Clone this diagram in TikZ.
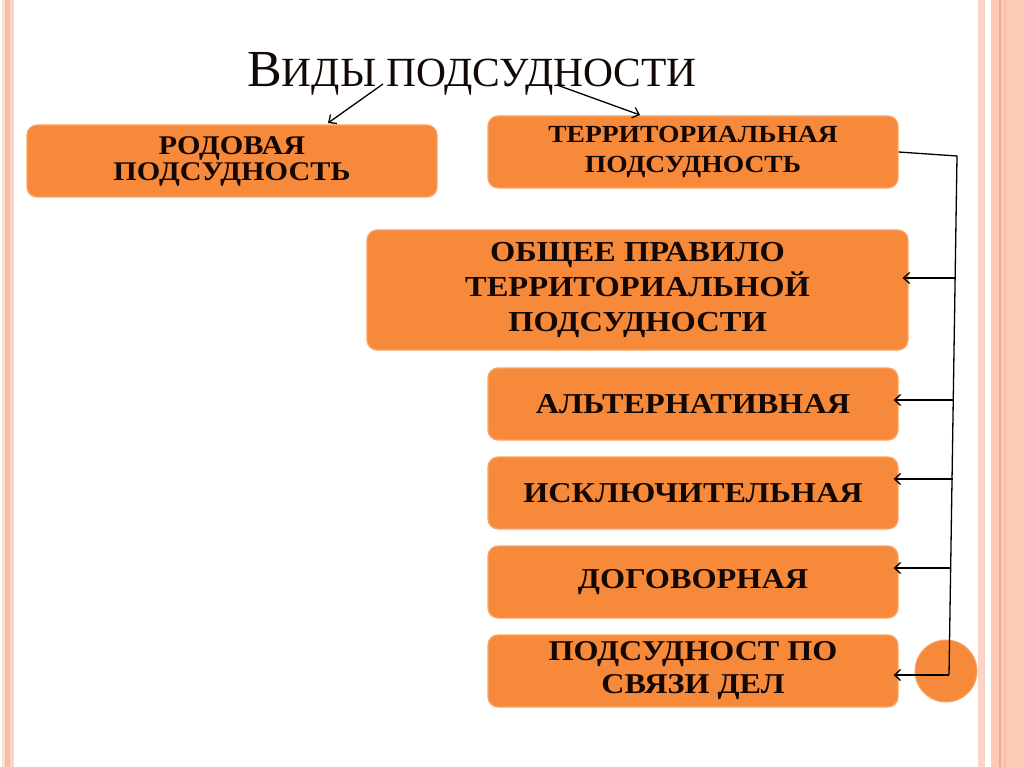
\documentclass[tikz,border=0pt]{standalone}
\usepackage{fontspec}
\setmainfont{Liberation Serif}
\newfontfamily\boxfont[FakeStretch=1.12]{Liberation Serif}
\usetikzlibrary{arrows.meta,calc}
\definecolor{boxorange}{RGB}{247,137,58}
\definecolor{boxedge}{RGB}{250,165,105}
\definecolor{stripeA}{RGB}{251,224,214}
\definecolor{stripeB}{RGB}{244,190,170}
\definecolor{stripeC}{RGB}{250,212,196}
\definecolor{bandR}{RGB}{251,203,181}
\definecolor{bandD}{RGB}{238,168,140}
\definecolor{txt}{RGB}{20,8,4}
\tikzset{
  obox/.style={rounded corners=10pt, fill=boxorange, draw=boxedge, line width=1.2pt,
    align=center, text=txt, inner sep=0pt},
  fs/.style 2 args={font=\boxfont\bfseries\fontsize{#1}{#2}\selectfont},
  arr/.style={-{Straight Barb[length=6pt,width=11pt]}, line width=1.3pt, black},
  lin/.style={line width=1.3pt, black}
}
\begin{document}
\begin{tikzpicture}[x=1pt,y=-1pt]
\useasboundingbox (0,0) rectangle (1024,767);
\fill[white] (0,0) rectangle (1024,767);
% left border stripes
\fill[stripeA] (2,0) rectangle (5,767);
\fill[stripeB] (5,0) rectangle (10,767);
\fill[stripeC] (10,0) rectangle (14,767);
% right border stripes
\fill[stripeC] (978,0) rectangle (985,767);
\fill[bandR] (991,0) rectangle (1024,767);
\fill[bandD] (999,0) rectangle (1001,767);
\fill[stripeB] (1004,0) rectangle (1006,767);

% title
\node[anchor=base, text=txt, inner sep=0pt] (title) at (472,87)
  {\fontsize{52}{54}\selectfont В\fontsize{41.5}{44}\selectfont ИДЫ ПОДСУДНОСТИ};

% boxes
\node[obox, fs={27}{26}, minimum width=410pt, minimum height=72pt] (rod) at (232,161)
  {РОДОВАЯ\\ПОДСУДНОСТЬ};
\node[obox, fs={24.6}{30}, minimum width=410pt, minimum height=72pt] (terr) at (693,152)
  {ТЕРРИТОРИАЛЬНАЯ\\ПОДСУДНОСТЬ};
\node[obox, fs={29}{35}, minimum width=541pt, minimum height=120pt] (obsh) at (637.5,290)
  {ОБЩЕЕ ПРАВИЛО\\ТЕРРИТОРИАЛЬНОЙ\\ПОДСУДНОСТИ};
\node[obox, fs={28.8}{30}, minimum width=410pt, minimum height=72pt] (alt) at (693,404)
  {АЛЬТЕРНАТИВНАЯ};
\node[obox, fs={28.8}{30}, minimum width=410pt, minimum height=72pt] (iskl) at (693,493)
  {ИСКЛЮЧИТЕЛЬНАЯ};
\node[obox, fs={28.8}{30}, minimum width=410pt, minimum height=72pt] (dog) at (693,582)
  {ДОГОВОРНАЯ};
\node[obox, fs={28.7}{33}, minimum width=410pt, minimum height=72pt] (svy) at (693,671)
  {ПОДСУДНОСТ ПО\\СВЯЗИ ДЕЛ};
\node[circle, fill=boxorange, draw=boxedge, line width=1pt, minimum size=62pt, inner sep=0pt] (circ) at (946,671) {};

% title arrows
\coordinate (t1) at (383,84);
\coordinate (t2) at (557,85);
\coordinate (e1) at (328,123);
\coordinate (e2) at (640,115);
\draw[arr] (t1) -- (e1);
\draw[arr] (t2) -- (e2);

% bracket connector
\coordinate (c1) at (957,156);
\coordinate (c2) at (949,675);
\draw[lin] (terr.east) -- (c1) -- (c2);
\coordinate (a1) at (956,278);
\coordinate (a2) at (954,400);
\coordinate (a3) at (953,479);
\coordinate (a4) at (951,568);
\draw[arr, shorten >=-6pt] (a1) -- (a1 -| obsh.east);
\draw[arr, shorten >=-5pt] (a2) -- (a2 -| alt.east);
\draw[arr, shorten >=-5pt] (a3) -- (a3 -| iskl.east);
\draw[arr, shorten >=-5pt] (a4) -- (a4 -| dog.east);
\draw[arr, shorten >=-5pt] (c2) -- (c2 -| svy.east);
\end{tikzpicture}
\end{document}
